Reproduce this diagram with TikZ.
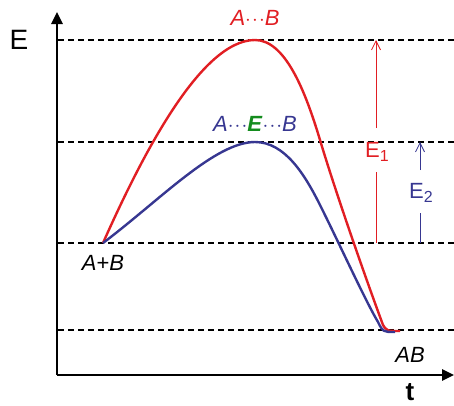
\documentclass[tikz,border=0pt]{standalone}
\usepackage{fontspec}
\setmainfont{Liberation Sans}
\usetikzlibrary{arrows.meta}
\definecolor{curvered}{RGB}{225,30,35}
\definecolor{curveblue}{RGB}{55,55,145}
\definecolor{catgreen}{RGB}{20,140,30}
\newcommand{\tdots}{$\cdot\!\cdot\!\cdot$}
\newcommand{\esub}[1]{E\raisebox{-0.35ex}{\fontsize{16}{17}\selectfont #1}}
\tikzset{
  axis/.style={line width=2.6pt, -{Triangle[length=12pt,width=11pt]}},
  level/.style={line width=1.1pt, dash pattern=on 6pt off 4pt},
  gap/.style={->, line width=1pt, >={Straight Barb[length=9pt,width=9pt,line width=0.8pt]}},
  lbl/.style={font=\fontsize{22}{24}\selectfont, inner sep=2pt}
}
\begin{document}
\begin{tikzpicture}[x=1pt, y=-1pt]
            \useasboundingbox (0,0) rectangle (454,405);
            % --- Eixos ---
            \coordinate (origin) at (57,375);
            \draw[axis] (origin) -- (57,12);
            \draw[axis] (origin) -- (454,375);
            \node[font=\fontsize{28}{30}\selectfont] (elabel) at (19,40) {E};
            \node[font=\bfseries\fontsize{26}{28}\selectfont, inner sep=0pt] (tlabel) at (410,392) {t};

            % --- Niveis de energia ---
            \draw[level] (58,40) -- (454,40);
            \draw[level] (58,142) -- (454,142);
            \draw[level] (58,243) -- (454,243);
            \draw[level] (58,330) -- (454,330);

            % --- Sem catalisador ---
            \draw[curvered, line width=2.4pt, line join=round]
                (103,243) .. controls (140,160) and (200,40) .. (255,40)
                .. controls (285,40) and (305,90) .. (320,140)
                .. controls (338,200) and (370,290) .. (383,325)
                .. controls (387,331) .. (400,331);

            % --- Com catalisador ---
            \draw[curveblue, line width=2.4pt, line join=round]
                (103,243) .. controls (160,200) and (215,142) .. (255,142)
                .. controls (285,142) and (305,175) .. (320,205)
                .. controls (340,245) and (365,300) .. (378,322)
                .. controls (383,332) .. (395,332);

            % Estados
            \node[lbl, curvered] (ts1) at (255,18) {\textit{A}\tdots\textit{B}};
            \node[lbl, curveblue] (ts2) at (255,124) {\textit{A}\tdots\textcolor{catgreen}{\textbf{\textit{E}}}\tdots\textit{B}};
            \node[lbl] (react) at (103,263) {\textit{A}+\textit{B}};
            \node[lbl] (prod) at (410,355) {\textit{AB}};

            % --- Energias de ativacao ---
            \node[lbl, curvered, inner sep=0pt] (E1) at (377,152) {\esub{1}};
            \draw[curvered, line width=1pt] (376,243) -- (376,172);
            \draw[curvered, gap] (376,128) -- (376,40);
            \node[lbl, curveblue, inner sep=0pt] (E2) at (421,193) {\esub{2}};
            \draw[curveblue, line width=1pt] (420,243) -- (420,213);
            \draw[curveblue, gap] (420,170) -- (420,142);

\end{tikzpicture}
\end{document}
